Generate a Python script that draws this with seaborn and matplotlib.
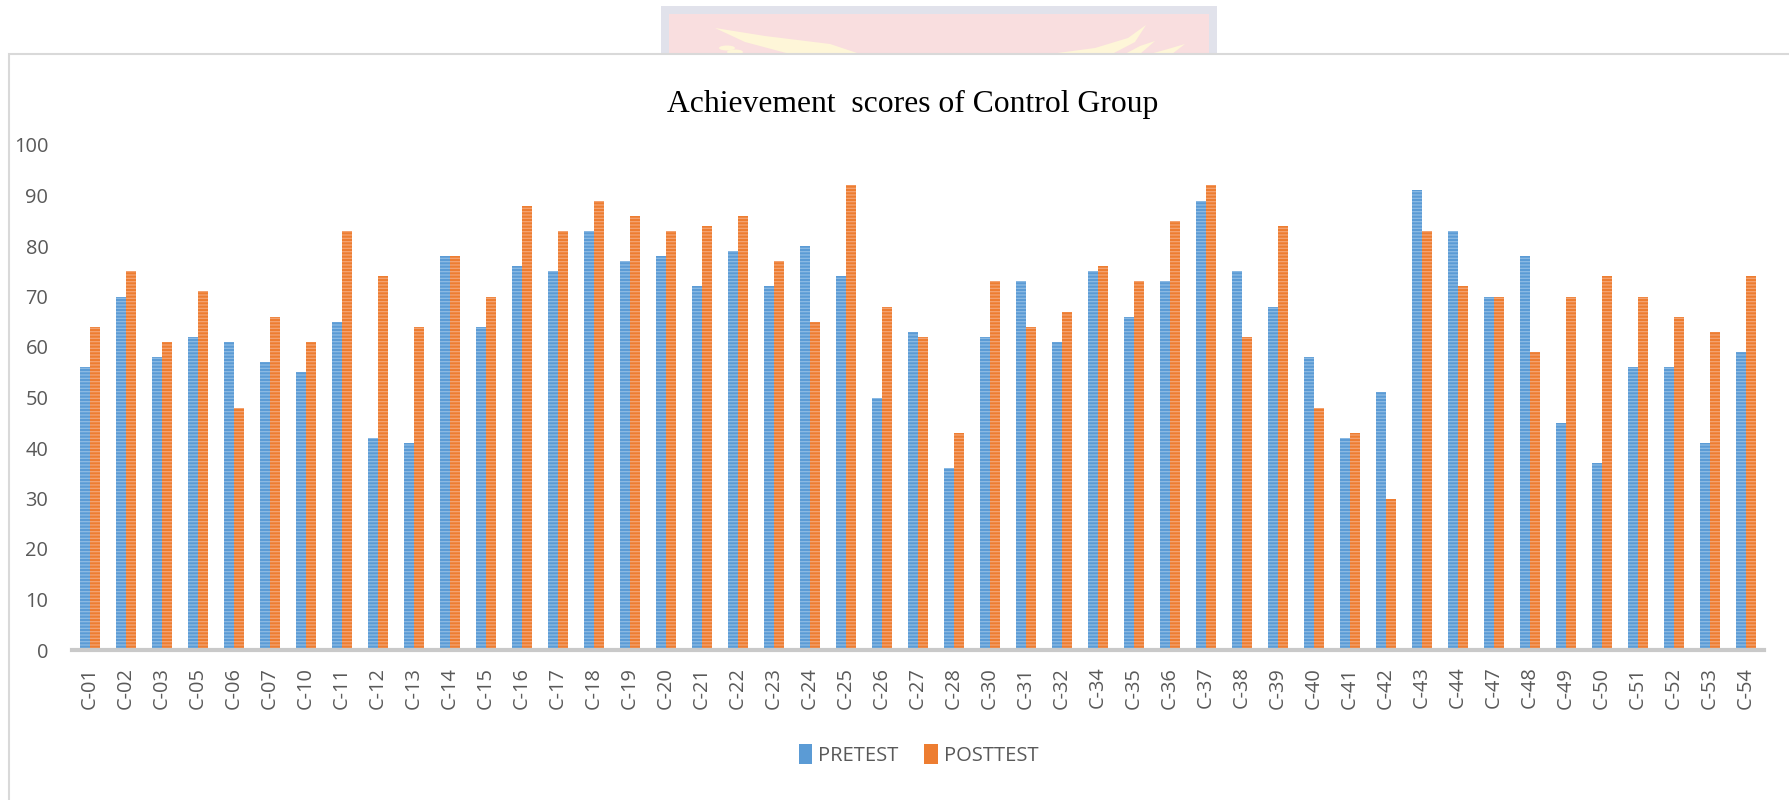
import matplotlib
matplotlib.use("Agg")
import matplotlib.pyplot as plt
from matplotlib.patches import Rectangle, Polygon, Ellipse
import seaborn as sns
import pandas as pd

# ---- data ----
students = ["C-01", "C-02", "C-03", "C-05", "C-06", "C-07", "C-10", "C-11", "C-12", "C-13",
            "C-14", "C-15", "C-16", "C-17", "C-18", "C-19", "C-20", "C-21", "C-22", "C-23",
            "C-24", "C-25", "C-26", "C-27", "C-28", "C-30", "C-31", "C-32", "C-34", "C-35",
            "C-36", "C-37", "C-38", "C-39", "C-40", "C-41", "C-42", "C-43", "C-44", "C-47",
            "C-48", "C-49", "C-50", "C-51", "C-52", "C-53", "C-54"]
pretest = [56, 70, 58, 62, 61, 57, 55, 65, 42, 41,
           78, 64, 76, 75, 83, 77, 78, 72, 79, 72,
           80, 74, 50, 63, 36, 62, 73, 61, 75, 66,
           73, 89, 75, 68, 58, 42, 51, 91, 83, 70,
           78, 45, 37, 56, 56, 41, 59]
posttest = [64, 75, 61, 71, 48, 66, 61, 83, 74, 64,
            78, 70, 88, 83, 89, 86, 83, 84, 86, 77,
            65, 92, 68, 62, 43, 73, 64, 67, 76, 73,
            85, 92, 62, 84, 48, 43, 30, 83, 72, 70,
            59, 70, 74, 70, 66, 63, 74]
series_names = ["PRETEST", "POSTTEST"]
y_ticks = [0, 10, 20, 30, 40, 50, 60, 70, 80, 90, 100]
title = "Achievement  scores of Control Group"

df = pd.DataFrame({
    "student": students * 2,
    "test": [series_names[0]] * len(students) + [series_names[1]] * len(students),
    "score": pretest + posttest,
})

# ---- style ----
sns.set_style("white")
plt.rcParams["font.family"] = ["Open Sans", "DejaVu Sans"]
plt.rcParams["hatch.linewidth"] = 0.9

W, H = 1790, 800
fig = plt.figure(figsize=(W / 100, H / 100), dpi=100)
fig.patch.set_facecolor("white")

def px(x, y):
    return (x / W, 1 - y / H)

# watermark strip at top
fig.patches.append(Rectangle(px(661, 54), (1217 - 661) / W, (54 - 6) / H,
                             transform=fig.transFigure, facecolor="#E1E2EB",
                             edgecolor="none", zorder=-3))
fig.patches.append(Rectangle(px(669, 54), (1209 - 669) / W, (54 - 14) / H,
                             transform=fig.transFigure, facecolor="#F9DEDF",
                             edgecolor="none", zorder=-3))
flame_col = "#FEF6D8"
for pts in ([(715, 28), (765, 36), (830, 44), (860, 54), (790, 54), (745, 42)],
            [(1146, 25), (1128, 38), (1095, 48), (1050, 54), (1112, 54), (1135, 42)],
            [(1185, 44), (1168, 49), (1150, 54), (1172, 54)],
            [(1155, 41), (1140, 46), (1125, 54), (1140, 54)]):
    fig.patches.append(Polygon([px(x, y) for x, y in pts], closed=True,
                               transform=fig.transFigure, facecolor=flame_col,
                               edgecolor="none", zorder=-2))
for cx, cy in ((727, 48), (735, 52)):
    fig.patches.append(Ellipse(px(cx, cy), 16 / W, 5 / H, transform=fig.transFigure,
                               facecolor=flame_col, edgecolor="none", zorder=-2))

# chart frame (extends past right and bottom edges)
fig.patches.append(Rectangle(px(9, 54), 1.2, -(1 - 54 / H) - 0.2,
                             transform=fig.transFigure, facecolor="white",
                             edgecolor="#D9D9D9", linewidth=1.5, zorder=-1))

ax = fig.add_axes([72 / W, 1 - 650 / H, (1764 - 72) / W, (650 - 145) / H])
ax.set_facecolor("none")
ax.set_zorder(1)

colors = {"PRETEST": "#5B9BD5", "POSTTEST": "#ED7D31"}
hatch_cols = {"PRETEST": "#8DBBE4", "POSTTEST": "#F4A474"}

sns.barplot(data=df, x="student", y="score", hue="test", hue_order=series_names,
            palette=colors, width=0.583, gap=0.05, ax=ax, legend=True,
            errorbar=None, saturation=1)

for name, cont in zip(series_names, ax.containers):
    for p in cont.patches:
        p.set_hatch("-----")
        p.set_edgecolor(hatch_cols[name])
        p.set_linewidth(0)

ax.set_ylim(0, 100)
ax.set_xlim(-0.5, len(students) - 0.5)
ax.set_yticks(y_ticks)
ax.set_xlabel("")
ax.set_ylabel("")
for s in ("top", "right", "left"):
    ax.spines[s].set_visible(False)
ax.spines["bottom"].set_color("#C9C9C9")
ax.spines["bottom"].set_linewidth(3)
ax.grid(False)
ax.tick_params(axis="y", length=0, pad=17, labelsize=14.4, labelcolor="#595959")
ax.tick_params(axis="x", length=0, pad=12, labelsize=14.4, labelcolor="#595959")
plt.setp(ax.get_xticklabels(), rotation=90, ha="center", va="top")

# legend
handles, labels = ax.get_legend_handles_labels()
ax.get_legend().remove()
leg = fig.legend(handles, labels, loc="center", bbox_to_anchor=(918.5 / W, 1 - 755 / H),
                 ncol=2, frameon=False, fontsize=14.5, handlelength=0.65,
                 handleheight=1.1, handletextpad=0.3, columnspacing=1.3,
                 labelcolor="#595959")
for h in leg.legend_handles:
    h.set_linewidth(0)

fig.text(913 / W, 1 - 112 / H, title, ha="center", va="baseline",
         fontsize=22.8, family=["Liberation Serif", "DejaVu Serif"], color="black")

fig.savefig("out.png", dpi=100)
